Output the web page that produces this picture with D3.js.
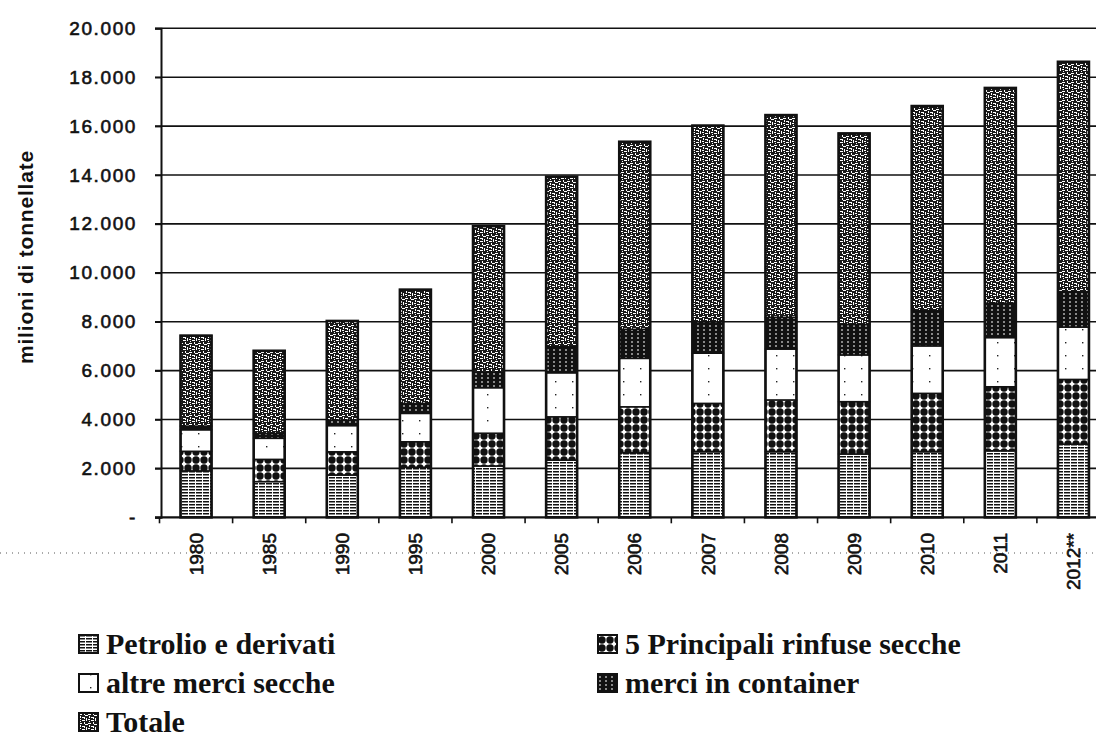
<!DOCTYPE html>
<html>
<head>
<meta charset="utf-8">
<script src="https://cdnjs.cloudflare.com/ajax/libs/d3/7.8.5/d3.min.js"></script>
<style>
  body { margin: 0; background: #fff; }
  svg { display: block; }
</style>
</head>
<body>
<div id="chart"></div>
<script>
// categories and series values (milioni di tonnellate)
var years = ["1980", "1985", "1990", "1995", "2000", "2005", "2006", "2007", "2008", "2009", "2010", "2011", "2012**"];
var petrolio = [1900, 1460, 1730, 2040, 2100, 2340, 2640, 2680, 2680, 2590, 2680, 2720, 2990];
var rinfuse = [800, 910, 950, 1050, 1340, 1770, 1880, 1980, 2120, 2140, 2390, 2620, 2650];
var altre = [880, 860, 1070, 1160, 1860, 1800, 1980, 2050, 2080, 1910, 1940, 2010, 2140];
var container = [150, 200, 230, 410, 650, 1070, 1190, 1290, 1300, 1250, 1440, 1410, 1450];
var totale = [3700, 3380, 4050, 4650, 5960, 6950, 7670, 8020, 8270, 7810, 8370, 8800, 9400];
var yTicks = [0, 2000, 4000, 6000, 8000, 10000, 12000, 14000, 16000, 18000, 20000];

var seriesKeys = ["petrolio", "rinfuse", "altre", "container", "totale"];
var seriesLabels = {
    petrolio: "Petrolio e derivati",
    rinfuse: "5 Principali rinfuse secche",
    altre: "altre merci secche",
    container: "merci in container",
    totale: "Totale"
};

// table for the stack layout
var rows = years.map(function (d, i) {
    return { year: d, petrolio: petrolio[i], rinfuse: rinfuse[i], altre: altre[i], container: container[i], totale: totale[i] };
});

var width = 1096;
var height = 745;

var svg = d3.select("#chart").append("svg")
    .attr("width", width)
    .attr("height", height);

// hatch patterns, like the printed chart
var defs = svg.append("defs");

var p1 = defs.append("pattern").attr("id", "pat-petrolio")
    .attr("patternUnits", "userSpaceOnUse").attr("width", 7).attr("height", 3);
p1.append("rect").attr("width", 7).attr("height", 3).attr("fill", "#fff");
p1.append("rect").attr("x", 0).attr("y", 0).attr("width", 6).attr("height", 1.5).attr("fill", "#111");

var p2 = defs.append("pattern").attr("id", "pat-rinfuse")
    .attr("patternUnits", "userSpaceOnUse").attr("width", 8).attr("height", 8);
p2.append("rect").attr("width", 8).attr("height", 8).attr("fill", "#fff");
p2.append("circle").attr("cx", 4).attr("cy", 4).attr("r", 3.7).attr("fill", "#111");

var p3 = defs.append("pattern").attr("id", "pat-altre")
    .attr("patternUnits", "userSpaceOnUse").attr("width", 17).attr("height", 13);
p3.append("rect").attr("width", 17).attr("height", 13).attr("fill", "#fff");
p3.append("rect").attr("x", 11).attr("y", 4).attr("width", 1.4).attr("height", 1.4).attr("fill", "#222");

var p4 = defs.append("pattern").attr("id", "pat-container")
    .attr("patternUnits", "userSpaceOnUse").attr("width", 6).attr("height", 4);
p4.append("rect").attr("width", 6).attr("height", 4).attr("fill", "#111");
p4.append("rect").attr("x", 1).attr("y", 1.5).attr("width", 2).attr("height", 1).attr("fill", "#fff");

var p5 = defs.append("pattern").attr("id", "pat-totale")
    .attr("patternUnits", "userSpaceOnUse").attr("width", 9).attr("height", 9);
p5.append("rect").attr("width", 9).attr("height", 9).attr("fill", "#1a1a1a");
[[0, 1, 3, 1], [5, 0, 1, 2], [6, 2, 3, 1], [1, 3, 1, 2], [3, 4, 3, 1], [7, 5, 1, 3],
 [0, 6, 2, 1], [3, 7, 3, 1], [1, 8, 1, 1], [5, 5, 1, 1]].forEach(function (r) {
    p5.append("rect").attr("x", r[0]).attr("y", r[1]).attr("width", r[2]).attr("height", r[3]).attr("fill", "#fff");
});

var fills = {
    petrolio: "url(#pat-petrolio)",
    rinfuse: "url(#pat-rinfuse)",
    altre: "url(#pat-altre)",
    container: "url(#pat-container)",
    totale: "url(#pat-totale)"
};

// scales
var x = d3.scaleBand()
    .domain(years)
    .range([159.5, 1110])
    .paddingInner(0.576)
    .paddingOuter(0.288);

var y = d3.scaleLinear()
    .domain([0, 20000])
    .range([517.3, 28.3]);

var fmt = function (d) {
    return d === 0 ? "-" : d3.format(",")(d).replace(/,/g, ".");
};

// scan artefact: dotted line through the year labels
svg.append("line")
    .attr("x1", 0).attr("x2", width)
    .attr("y1", 553).attr("y2", 553)
    .attr("stroke", "#555")
    .attr("stroke-width", 1)
    .attr("stroke-dasharray", "1,5");

// gridlines
svg.append("g")
    .selectAll("line")
    .data(yTicks.filter(function (d) { return d > 0; }))
    .enter()
    .append("line")
    .attr("x1", 155).attr("x2", 1110)
    .attr("y1", function (d) { return y(d); })
    .attr("y2", function (d) { return y(d); })
    .attr("stroke", "#111")
    .attr("stroke-width", 1.6);

// y axis
var yAxis = svg.append("g")
    .attr("transform", "translate(161,0)")
    .call(d3.axisLeft(y).tickValues(yTicks).tickSize(6).tickPadding(18).tickFormat(fmt));
yAxis.select(".domain").attr("stroke", "#111").attr("stroke-width", 2);
yAxis.selectAll(".tick line").attr("stroke", "#111").attr("stroke-width", 1.6);
yAxis.selectAll(".tick text")
    .attr("fill", "#111")
    .attr("stroke", "#111")
    .attr("stroke-width", 0.6)
    .style("font-family", "'Liberation Sans', Arial, sans-serif")
    .style("font-size", "19px")
    .style("letter-spacing", "1.6px");

// y title
svg.append("text")
    .attr("transform", "translate(33,257) rotate(-90)")
    .attr("text-anchor", "middle")
    .style("font-family", "'Liberation Sans', Arial, sans-serif")
    .style("font-weight", "bold")
    .style("font-size", "21px")
    .style("letter-spacing", "0.8px")
    .attr("fill", "#111")
    .text("milioni di tonnellate");

// stacked bars
var stack = d3.stack().keys(seriesKeys);
var layers = stack(rows);

svg.append("g")
    .selectAll("g")
    .data(layers)
    .enter()
    .append("g")
    .attr("fill", function (d) { return fills[d.key]; })
    .selectAll("rect")
    .data(function (d) { return d; })
    .enter()
    .append("rect")
    .attr("x", function (d) { return x(d.data.year); })
    .attr("y", function (d) { return y(d[1]); })
    .attr("width", x.bandwidth())
    .attr("height", function (d) { return y(d[0]) - y(d[1]); })
    .attr("stroke", "#111")
    .attr("stroke-width", 1.5);

// heavy outline round each bar
svg.append("g")
    .selectAll("rect")
    .data(layers[layers.length - 1])
    .enter()
    .append("rect")
    .attr("x", function (d) { return x(d.data.year); })
    .attr("y", function (d) { return y(d[1]); })
    .attr("width", x.bandwidth())
    .attr("height", function (d) { return y(0) - y(d[1]); })
    .attr("fill", "none")
    .attr("stroke", "#111")
    .attr("stroke-width", 2.6);

// x axis line and ticks between the categories
svg.append("line")
    .attr("x1", 155).attr("x2", 1110)
    .attr("y1", y(0)).attr("y2", y(0))
    .attr("stroke", "#111")
    .attr("stroke-width", 2.2);

var gap = (x.step() - x.bandwidth()) / 2;
svg.append("g")
    .selectAll("line")
    .data(years)
    .enter()
    .append("line")
    .attr("x1", function (d) { return x(d) - gap; })
    .attr("x2", function (d) { return x(d) - gap; })
    .attr("y1", y(0))
    .attr("y2", y(0) + 6)
    .attr("stroke", "#111")
    .attr("stroke-width", 1.6);

// year labels, rotated
svg.append("g")
    .selectAll("text")
    .data(years)
    .enter()
    .append("text")
    .attr("transform", function (d) {
        return "translate(" + (x(d) + x.bandwidth() / 2) + ",533) rotate(-90)";
    })
    .attr("text-anchor", "end")
    .attr("dy", "0.35em")
    .attr("fill", "#111")
    .attr("stroke", "#111")
    .attr("stroke-width", 0.6)
    .style("font-family", "'Liberation Sans', Arial, sans-serif")
    .style("font-size", "19px")
    .text(function (d) { return d; });

// legend (two columns, row order as in the print)
var legendItems = [
    { key: "petrolio", x: 79, y: 644 },
    { key: "rinfuse", x: 598, y: 644 },
    { key: "altre", x: 79, y: 683 },
    { key: "container", x: 598, y: 683 },
    { key: "totale", x: 79, y: 722 }
];

var legend = svg.append("g")
    .selectAll("g")
    .data(legendItems)
    .enter()
    .append("g")
    .attr("transform", function (d) { return "translate(" + d.x + "," + d.y + ")"; });

legend.append("rect")
    .attr("x", 0)
    .attr("y", -9)
    .attr("width", 19)
    .attr("height", 18)
    .attr("fill", function (d) { return fills[d.key]; })
    .attr("stroke", "#111")
    .attr("stroke-width", 2);

legend.append("text")
    .attr("x", 27)
    .attr("y", 10)
    .attr("fill", "#111")
    .style("font-family", "'Liberation Serif', 'Times New Roman', serif")
    .style("font-weight", "bold")
    .style("font-size", "30px")
    .text(function (d) { return seriesLabels[d.key]; });
</script>
</body>
</html>
